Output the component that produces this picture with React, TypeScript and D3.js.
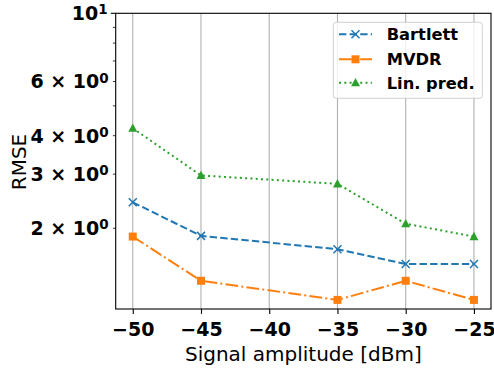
import * as d3 from 'd3';
import { useEffect, useRef } from "react";

const amplitudes = [-50, -45, -35, -30, -25];
const bartlett = [2.43, 1.89, 1.71, 1.53, 1.53];
const mvdr = [1.88, 1.35, 1.17, 1.35, 1.17];
const linPred = [4.23, 2.97, 2.79, 2.07, 1.88];
const xTicks = [-50, -45, -40, -35, -30, -25];
const yLabelTicks = [2, 3, 4, 6];
const yMinorTicks = [2, 3, 4, 5, 6, 7, 8, 9];

const App = () => {
    const ref = useRef<SVGSVGElement | null>(null);

    useEffect(() => {
        document.body.style.margin = "0";
        const width = 494;
        const height = 371;
        const margin = { top: 13.3, right: 3, bottom: 62, left: 115.7 };
        const font = "'DejaVu Sans', sans-serif";

        const svg = d3.select(ref.current!);
        svg.selectAll("*").remove();
        svg.attr("width", width).attr("height", height).style("display", "block");

        const x = d3.scaleLinear()
            .domain([-51.25, -23.75])
            .range([margin.left, width - margin.right]);

        const y = d3.scaleLog()
            .domain([1.093, 10])
            .range([height - margin.bottom, margin.top]);

        // grid
        svg.append("g")
            .selectAll("line")
            .data(xTicks)
            .enter().append("line")
            .attr("x1", d => x(d)).attr("x2", d => x(d))
            .attr("y1", margin.top).attr("y2", height - margin.bottom)
            .attr("stroke", "#b0b0b0")
            .attr("stroke-width", 1.1);

        // x axis
        const xAxis = svg.append("g")
            .attr("transform", `translate(0,${height - margin.bottom})`)
            .call(d3.axisBottom(x).tickValues(xTicks).tickSize(4.9).tickPadding(8.6)
                .tickFormat(d => `\u2212${Math.abs(+d)}`));
        xAxis.select(".domain").remove();
        xAxis.selectAll("text")
            .attr("font-family", font).attr("font-size", 19).attr("font-weight", "bold").attr("fill", "#000");
        xAxis.selectAll("line").attr("stroke", "#000").attr("stroke-width", 1.1);

        // y axis ticks
        const yAxis = svg.append("g").attr("transform", `translate(${margin.left},0)`);
        yAxis.selectAll("line.minor")
            .data(yMinorTicks)
            .enter().append("line")
            .attr("x1", -2.8).attr("x2", 0)
            .attr("y1", d => y(d)).attr("y2", d => y(d))
            .attr("stroke", "#000").attr("stroke-width", 0.8);
        yAxis.append("line")
            .attr("x1", -4.9).attr("x2", 0)
            .attr("y1", y(10)).attr("y2", y(10))
            .attr("stroke", "#000").attr("stroke-width", 1.1);

        const yLabels = yAxis.selectAll("text.lab")
            .data(yLabelTicks)
            .enter().append("text")
            .attr("x", -7).attr("y", d => y(d)).attr("dy", "0.36em")
            .attr("text-anchor", "end")
            .attr("font-family", font).attr("font-size", 19).attr("font-weight", "bold");
        yLabels.append("tspan").text(d => `${d} \u00d7 10`);
        yLabels.append("tspan").attr("font-size", 13.5).attr("dy", "-0.42em").text("0");

        const top = yAxis.append("text")
            .attr("x", -8).attr("y", y(10)).attr("dy", "0.36em")
            .attr("text-anchor", "end")
            .attr("font-family", font).attr("font-size", 19).attr("font-weight", "bold");
        top.append("tspan").text("10");
        top.append("tspan").attr("font-size", 13.5).attr("dy", "-0.42em").text("1");

        // series
        const series = [
            { name: "Bartlett", values: bartlett, color: "#1f77b4", dash: "7.4,3.2", marker: "x" },
            { name: "MVDR", values: mvdr, color: "#ff7f0e", dash: "12.8,3.2,2,3.2", marker: "s" },
            { name: "Lin. pred.", values: linPred, color: "#2ca02c", dash: "2,3.3", marker: "^" }
        ];

        const line = d3.line<number>()
            .x((d, i) => x(amplitudes[i]))
            .y(d => y(d));

        const drawMarker = (g: any, cx: number, cy: number, s: any) => {
            if (s.marker === "x") {
                const r = 4;
                g.append("path")
                    .attr("d", `M${cx - r},${cy - r}L${cx + r},${cy + r}M${cx - r},${cy + r}L${cx + r},${cy - r}`)
                    .attr("stroke", s.color).attr("stroke-width", 1.5).attr("fill", "none");
            } else if (s.marker === "s") {
                g.append("rect")
                    .attr("x", cx - 4).attr("y", cy - 4).attr("width", 8).attr("height", 8)
                    .attr("fill", s.color);
            } else {
                g.append("path")
                    .attr("d", `M${cx},${cy - 4.8}L${cx + 4.5},${cy + 3.6}L${cx - 4.5},${cy + 3.6}Z`)
                    .attr("fill", s.color);
            }
        };

        series.forEach(s => {
            svg.append("path")
                .datum(s.values)
                .attr("d", line)
                .attr("fill", "none")
                .attr("stroke", s.color)
                .attr("stroke-width", 2)
                .attr("stroke-dasharray", s.dash);
            const g = svg.append("g");
            s.values.forEach((v, i) => drawMarker(g, x(amplitudes[i]), y(v), s));
        });

        // frame
        svg.append("rect")
            .attr("x", margin.left).attr("y", margin.top)
            .attr("width", width - margin.right - margin.left)
            .attr("height", height - margin.bottom - margin.top)
            .attr("fill", "none").attr("stroke", "#000").attr("stroke-width", 1.1);

        // legend
        const lg = svg.append("g");
        lg.append("rect")
            .attr("x", 333.3).attr("y", 22.3).attr("width", 149).attr("height", 76)
            .attr("rx", 3)
            .attr("fill", "#fff").attr("fill-opacity", 0.8)
            .attr("stroke", "#d0d0d0").attr("stroke-width", 1);
        const rows = [34.3, 59.3, 82.7];
        series.forEach((s, i) => {
            const ry = rows[i];
            lg.append("line")
                .attr("x1", 339).attr("x2", 372).attr("y1", ry).attr("y2", ry)
                .attr("stroke", s.color).attr("stroke-width", 2).attr("stroke-dasharray", s.dash);
            drawMarker(lg, 355.5, ry, s);
            lg.append("text")
                .attr("x", 386.7).attr("y", ry).attr("dy", "0.36em")
                .attr("font-family", font).attr("font-size", 16.3).attr("font-weight", "bold")
                .text(s.name);
        });

        // axis labels
        svg.append("text")
            .attr("x", (margin.left + width - margin.right) / 2).attr("y", 361)
            .attr("text-anchor", "middle")
            .attr("font-family", font).attr("font-size", 20)
            .text("Signal amplitude [dBm]");
        svg.append("text")
            .attr("transform", `translate(26,162) rotate(-90)`)
            .attr("text-anchor", "middle")
            .attr("font-family", font).attr("font-size", 20)
            .text("RMSE");
    }, []);

    return <svg ref={ref}></svg>;
};

export default App;
